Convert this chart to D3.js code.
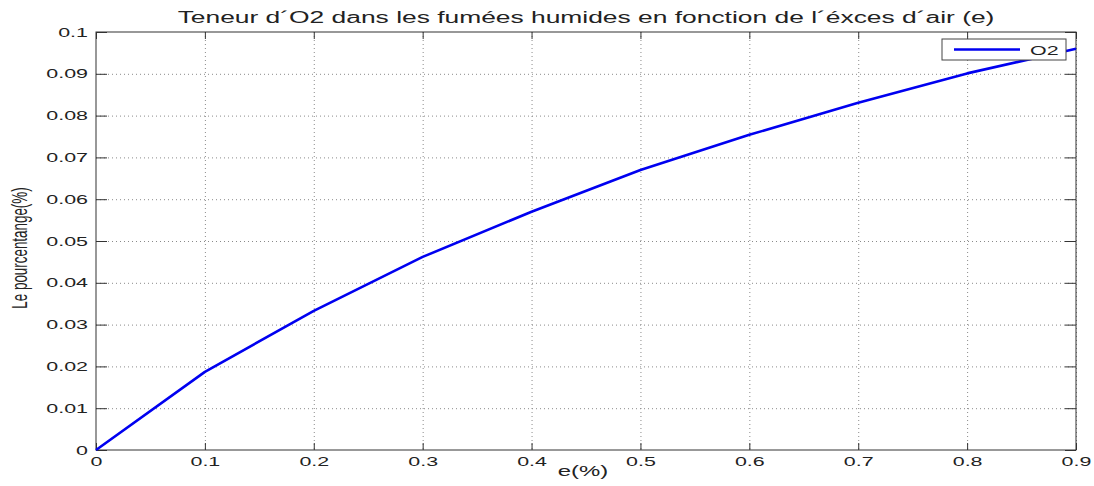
<!DOCTYPE html>
<html>
<head>
<meta charset="utf-8">
<script src="https://cdn.jsdelivr.net/npm/d3@7"></script>
<style>
  body { margin: 0; background: #fff; }
  text { font-family: "Liberation Sans", Arial, Helvetica, sans-serif; fill: #222; }
</style>
</head>
<body>
<div id="chart"></div>
<script>
// values
var excess = [0, 0.1, 0.2, 0.3, 0.4, 0.5, 0.6, 0.7, 0.8, 0.9];
var o2 = [0, 0.0187, 0.0333, 0.0462, 0.0570, 0.0670, 0.0754, 0.0831, 0.0901, 0.0960];
var xTicks = [0, 0.1, 0.2, 0.3, 0.4, 0.5, 0.6, 0.7, 0.8, 0.9];
var xTickLabels = ["0", "0.1", "0.2", "0.3", "0.4", "0.5", "0.6", "0.7", "0.8", "0.9"];
var yTicks = [0, 0.01, 0.02, 0.03, 0.04, 0.05, 0.06, 0.07, 0.08, 0.09, 0.1];
var yTickLabels = ["0", "0.01", "0.02", "0.03", "0.04", "0.05", "0.06", "0.07", "0.08", "0.09", "0.1"];
var seriesName = "O2";
var title = "Teneur d\u00B4O2 dans les fum\u00E9es humides en fonction de l\u00B4\u00E9xces d\u00B4air (e)";
var xLabel = "e(%)";
var yLabel = "Le pourcentange(%)";

var width = 1094, height = 486;
var margin = {left: 96, right: 18, top: 32, bottom: 36};
var w = width - margin.left - margin.right, h = height - margin.top - margin.bottom;
var sx = 1.65; // the original figure is stretched sideways, text included

var svg = d3.select("#chart").append("svg")
  .attr("width", width).attr("height", height);

var g = svg.append("g")
  .attr("transform", "translate(" + margin.left + "," + margin.top + ")");

var x = d3.scaleLinear().domain([0, 0.9]).range([0, w]);
var y = d3.scaleLinear().domain([0, 0.1]).range([h, 0]);

// dotted grid
g.append("g")
  .attr("class", "grid")
  .call(d3.axisBottom(x).tickValues(xTicks.slice(1)).tickSize(h).tickFormat(""))
  .call(function(s) { s.select(".domain").remove(); });
g.append("g")
  .attr("class", "grid")
  .call(d3.axisLeft(y).tickValues(yTicks.slice(1, -1)).tickSize(-w).tickFormat(""))
  .call(function(s) { s.select(".domain").remove(); });
g.selectAll(".grid line")
  .attr("stroke", "#8a8a8a")
  .attr("stroke-width", 1)
  .attr("stroke-dasharray", "1,3");

// axes with inward ticks
var xAxis = g.append("g")
  .attr("transform", "translate(0," + h + ")")
  .call(d3.axisBottom(x).tickValues(xTicks).tickSize(-7).tickSizeOuter(0).tickPadding(7)
    .tickFormat(function(d, i) { return xTickLabels[i]; }));
var yAxis = g.append("g")
  .call(d3.axisLeft(y).tickValues(yTicks).tickSize(-11).tickSizeOuter(0).tickPadding(8 / sx)
    .tickFormat(function(d, i) { return yTickLabels[i]; }));
g.append("g")
  .call(d3.axisTop(x).tickValues(xTicks).tickSize(-7).tickSizeOuter(0).tickFormat(""));
g.append("g")
  .attr("transform", "translate(" + w + ",0)")
  .call(d3.axisRight(y).tickValues(yTicks).tickSize(-11).tickSizeOuter(0).tickFormat(""));

g.selectAll(".domain").remove();
g.selectAll(".tick line").filter(function() { return !this.closest(".grid"); })
  .attr("stroke", "#333");
[xAxis, yAxis].forEach(function(a) {
  a.selectAll("text")
    .attr("font-size", 13)
    .attr("fill", "#222")
    .attr("transform", "scale(" + sx + ",1)");
});

// box
g.append("rect")
  .attr("width", w).attr("height", h)
  .attr("fill", "none")
  .attr("stroke", "#333")
  .attr("stroke-width", 1);

// the curve
var pts = excess.map(function(e, i) { return [e, o2[i]]; });
g.append("path")
  .datum(pts)
  .attr("fill", "none")
  .attr("stroke", "#0000f0")
  .attr("stroke-width", 2.6)
  .attr("stroke-linejoin", "round")
  .attr("d", d3.line().x(function(d) { return x(d[0]); }).y(function(d) { return y(d[1]); }));

// legend
var lg = g.append("g").attr("transform", "translate(" + (w - 134) + ",7)");
lg.append("rect")
  .attr("width", 124).attr("height", 21)
  .attr("fill", "#fff").attr("stroke", "#444").attr("stroke-width", 1);
lg.append("line")
  .attr("x1", 12).attr("x2", 78).attr("y1", 10.5).attr("y2", 10.5)
  .attr("stroke", "#0000f0").attr("stroke-width", 2.6);
lg.append("text")
  .attr("transform", "translate(88,15.5) scale(" + sx + ",1)")
  .attr("font-size", 13)
  .text(seriesName);

// title and labels
svg.append("text")
  .attr("transform", "translate(" + (margin.left + w / 2) + ",23) scale(" + sx + ",1)")
  .attr("text-anchor", "middle")
  .attr("font-size", 16)
  .attr("fill", "#111")
  .text(title);
svg.append("text")
  .attr("transform", "translate(" + (margin.left + w / 2 - 3) + ",476) scale(" + sx + ",1)")
  .attr("text-anchor", "middle")
  .attr("font-size", 14.5)
  .text(xLabel);
svg.append("text")
  .attr("transform", "translate(27,248) scale(" + sx + ",1) rotate(-90)")
  .attr("text-anchor", "middle")
  .attr("font-size", 13.4)
  .text(yLabel);
</script>
</body>
</html>
